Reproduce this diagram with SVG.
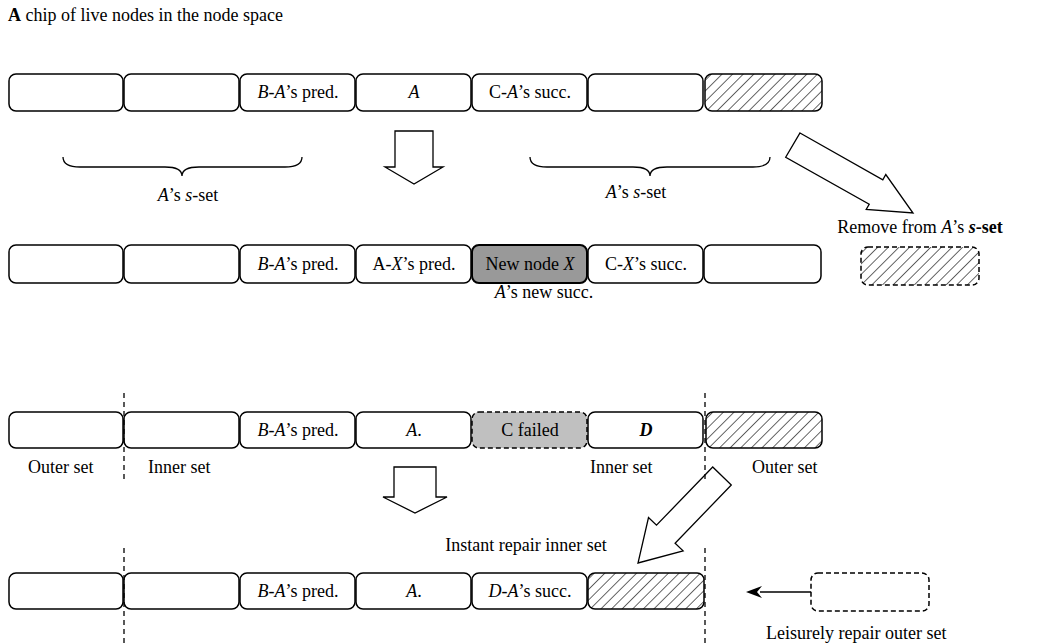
<svg xmlns="http://www.w3.org/2000/svg" width="1040" height="644" viewBox="0 0 1040 644">
<defs>
<pattern id="hatch" patternUnits="userSpaceOnUse" width="7.5" height="7.5" patternTransform="rotate(45)">
<line x1="0" y1="0" x2="0" y2="7.5" stroke="#000" stroke-width="1.2"/>
</pattern>
<marker id="barb" viewBox="0 0 16 12" refX="2" refY="6" markerWidth="16" markerHeight="12" markerUnits="userSpaceOnUse" orient="auto-start-reverse">
<path d="M16,6 L0,0 L5,6 L0,12 Z" fill="#000"/>
</marker>
<style>
.box{fill:#fff;stroke:#000;stroke-width:1.5}
.hb{fill:url(#hatch);stroke:#000;stroke-width:1.5}
.dash{stroke-dasharray:5 3}
.t{font-family:"Liberation Serif","Times New Roman",serif;font-size:18px;fill:#000}
.c{text-anchor:middle}
.i{font-style:italic}
.b{font-weight:bold}
.ln{fill:none;stroke:#000;stroke-width:1.3}
.arw{fill:#fff;stroke:#000;stroke-width:1.3;stroke-linejoin:miter}
.vd{stroke:#000;stroke-width:1.3;stroke-dasharray:5 4}
</style>
</defs>
<rect width="1040" height="644" fill="#fff"/>

<text class="t" x="8" y="21"><tspan class="b">A</tspan> chip of live nodes in the node space</text>

<!-- Row 1 -->
<g id="r1n1"><rect class="box" x="9" y="74" width="114" height="37" rx="7"/></g>
<g id="r1n2"><rect class="box" x="124" y="74" width="115" height="37" rx="7"/></g>
<g id="r1n3"><rect class="box" x="240" y="74" width="115" height="37" rx="7"/><text class="t c" x="298" y="98"><tspan class="i">B</tspan>-<tspan class="i">A</tspan>’s pred.</text></g>
<g id="r1n4"><rect class="box" x="356" y="74" width="115" height="37" rx="7"/><text class="t c i" x="414" y="98">A</text></g>
<g id="r1n5"><rect class="box" x="472" y="74" width="115" height="37" rx="7"/><text class="t c" x="530" y="98">C-<tspan class="i">A</tspan>’s succ.</text></g>
<g id="r1n6"><rect class="box" x="588" y="74" width="115" height="37" rx="7"/></g>
<g id="r1n7"><rect class="hb" x="705" y="74" width="117" height="37" rx="7"/></g>

<!-- Row 2 -->
<g id="r2n1"><rect class="box" x="9" y="245" width="114" height="38" rx="7"/></g>
<g id="r2n2"><rect class="box" x="124" y="245" width="115" height="38" rx="7"/></g>
<g id="r2n3"><rect class="box" x="240" y="245" width="115" height="38" rx="7"/><text class="t c" x="298" y="270"><tspan class="i">B</tspan>-<tspan class="i">A</tspan>’s pred.</text></g>
<g id="r2n4"><rect class="box" x="356" y="245" width="115" height="38" rx="7"/><text class="t c" x="414" y="270">A-<tspan class="i">X</tspan>’s pred.</text></g>
<g id="r2n5"><rect x="472" y="245" width="115" height="38" rx="7" fill="#999" stroke="#000" stroke-width="2"/><text class="t c" x="530" y="270">New node <tspan class="i">X</tspan></text></g>
<g id="r2n6"><rect class="box" x="588" y="245" width="115" height="38" rx="7"/><text class="t c" x="646" y="270">C-<tspan class="i">X</tspan>’s succ.</text></g>
<g id="r2n7"><rect class="box" x="704" y="245" width="117" height="38" rx="7"/></g>
<g id="removed"><rect class="hb dash" x="861" y="247" width="118" height="38" rx="7"/><text class="t c" x="920" y="233">Remove from <tspan class="i">A</tspan>’s <tspan class="i b">s</tspan><tspan class="b">-set</tspan></text></g>
<text class="t c" x="544" y="298"><tspan class="i">A</tspan>’s new succ.</text>

<!-- Row 3 -->
<g id="r3n1"><rect class="box" x="9" y="412" width="114" height="36" rx="7"/></g>
<g id="r3n2"><rect class="box" x="124" y="412" width="115" height="36" rx="7"/></g>
<g id="r3n3"><rect class="box" x="240" y="412" width="115" height="36" rx="7"/><text class="t c" x="298" y="436"><tspan class="i">B</tspan>-<tspan class="i">A</tspan>’s pred.</text></g>
<g id="r3n4"><rect class="box" x="356" y="412" width="115" height="36" rx="7"/><text class="t c" x="414" y="436"><tspan class="i">A</tspan>.</text></g>
<g id="r3n5"><rect class="box dash" x="472" y="412" width="115" height="36" rx="7" style="fill:#c0c0c0"/><text class="t c" x="530" y="436">C failed</text></g>
<g id="r3n6"><rect class="box" x="588" y="412" width="115" height="36" rx="7"/><text class="t c i b" x="646" y="436">D</text></g>
<g id="r3n7"><rect class="hb" x="706" y="412" width="116" height="36" rx="7"/></g>
<text class="t" x="28" y="473">Outer set</text>
<text class="t" x="148" y="473">Inner set</text>
<text class="t" x="590" y="473">Inner set</text>
<text class="t" x="752" y="473">Outer set</text>
<text class="t c" x="526" y="551">Instant repair inner set</text>

<!-- Row 4 -->
<g id="r4n1"><rect class="box" x="9" y="573" width="114" height="36" rx="7"/></g>
<g id="r4n2"><rect class="box" x="124" y="573" width="115" height="36" rx="7"/></g>
<g id="r4n3"><rect class="box" x="240" y="573" width="115" height="36" rx="7"/><text class="t c" x="298" y="597"><tspan class="i">B</tspan>-<tspan class="i">A</tspan>’s pred.</text></g>
<g id="r4n4"><rect class="box" x="356" y="573" width="115" height="36" rx="7"/><text class="t c" x="414" y="597"><tspan class="i">A</tspan>.</text></g>
<g id="r4n5"><rect class="box" x="472" y="573" width="115" height="36" rx="7"/><text class="t c" x="530" y="597"><tspan class="i">D</tspan>-<tspan class="i">A</tspan>’s succ.</text></g>
<g id="r4n6"><rect class="hb" x="588" y="573" width="116" height="36" rx="7"/></g>
<g id="pending"><rect class="box dash" x="811" y="573" width="118" height="38" rx="7"/></g>
<text class="t" x="766" y="639">Leisurely repair outer set</text>

<!-- Connectors -->
<g id="connectors">
<path class="ln" d="M63,157 Q63,167 80,167 L165,167 Q182,167 182,176 Q182,167 199,167 L285,167 Q302,167 302,157"/>
<text class="t c" x="188" y="201"><tspan class="i">A</tspan>’s <tspan class="i">s</tspan>-set</text>
<path class="ln" d="M530,157 Q530,167 547,167 L633,167 Q650,167 650,176 Q650,167 667,167 L753,167 Q770,167 770,157"/>
<text class="t c" x="636" y="198"><tspan class="i">A</tspan>’s <tspan class="i">s</tspan>-set</text>
<polygon class="arw" points="395,131 433,131 433,167 443,167 414,184 385,167 395,167"/>
<polygon class="arw" points="800,133 882.8,179.8 885.8,174.5 913,213 866.2,209.5 869.2,204.2 785.7,157.2"/>
<polygon class="arw" points="394,467 436,467 436,497 447,497 415,513 383,497 394,497"/>
<polygon class="arw" points="712.7,467 656.5,525.2 648.5,517.5 638,563 683.1,550.9 675.1,543.2 731.3,485"/>
<line class="ln" x1="811" y1="592" x2="760" y2="592" marker-end="url(#barb)"/>
<line class="vd" x1="124" y1="393" x2="124" y2="482"/>
<line class="vd" x1="705" y1="393" x2="705" y2="482"/>
<line class="vd" x1="124" y1="548" x2="124" y2="644"/>
<line class="vd" x1="705" y1="548" x2="705" y2="644"/>
</g>
</svg>
